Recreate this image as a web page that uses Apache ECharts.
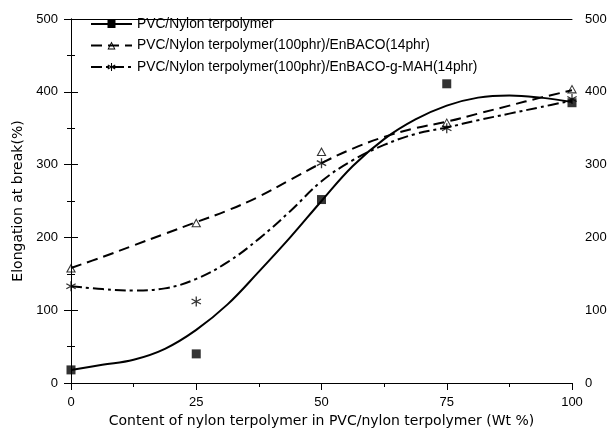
<!DOCTYPE html>
<html>
<head>
<meta charset="utf-8">
<script src="https://cdn.jsdelivr.net/npm/echarts@6/dist/echarts.min.js"></script>
<style>
html,body{margin:0;padding:0;background:#fff;}
#chart{width:611px;height:433px;}
</style>
</head>
<body>
<div id="chart"></div>
<script>
// Measured points
const xCats = [0, 25, 50, 75, 100];
const pvcNylon = [18, 40, 252, 411, 385];
const enbaco = [158, 220, 318, 358, 404];
const enbacoMah = [133, 112, 302, 350, 390];

// Fitted curves
const curveX = [0, 6.25, 12.5, 18.75, 25, 31.25, 37.5, 43.75, 50, 56.25, 62.5, 68.75, 75, 81.25, 87.5, 93.75, 100];
const pvcNylonFit = [18, 25, 32, 47, 73, 108, 153, 200, 250, 298, 335, 362, 381, 392, 395, 392, 386];
const enbacoFit = [158, 173, 189, 205, 221, 237, 256, 279, 302, 322, 338, 350, 359, 370, 381, 392, 402];
const enbacoMahFit = [133, 129, 127, 130, 143, 166, 198, 236, 277, 306, 327, 342, 351, 361, 370, 379, 388];

const seriesNames = [
  'PVC/Nylon terpolymer',
  'PVC/Nylon terpolymer(100phr)/EnBACO(14phr)',
  'PVC/Nylon terpolymer(100phr)/EnBACO-g-MAH(14phr)'
];
const xTicks = ['0', '25', '50', '75', '100'];
const yTicks = ['0', '100', '200', '300', '400', '500'];

const starPath = 'path://M8.8 0 L11.2 0 L11.2 20 L8.8 20 Z M0.74 6.04 L1.94 3.96 L19.26 13.96 L18.06 16.04 Z M18.06 3.96 L19.26 6.04 L1.94 16.04 L0.74 13.96 Z';
const triPath = 'path://M10 0 L20 18 L0 18 Z M10 4.4 L3.7 15.8 L16.3 15.8 Z';

const pair = (xs, ys) => xs.map((x, i) => [x, ys[i]]);
const FONT = '"Liberation Sans", Arial, sans-serif';
const TITLE_FONT = '"DejaVu Sans", sans-serif';

const chart = echarts.init(document.getElementById('chart'), null, {renderer: 'canvas'});

const yAxisCommon = {
  type: 'value', min: 0, max: 500, interval: 100,
  axisLine: {show: true, lineStyle: {color: '#000', width: 1}},
  axisTick: {show: true, length: 7, inside: false, lineStyle: {color: '#000'}},
  minorTick: {show: true, splitNumber: 2, length: 4, lineStyle: {color: '#000'}},
  splitLine: {show: false},
  axisLabel: {color: '#000', fontSize: 13, fontFamily: FONT, margin: 13}
};

chart.setOption({
  animation: false,
  backgroundColor: '#fff',
  textStyle: {fontFamily: FONT},
  grid: {left: 71, right: 39, top: 19, bottom: 49, containLabel: false},
  legend: {
    show: true,
    orient: 'vertical',
    left: 90, top: 17, padding: 0,
    itemWidth: 41, itemHeight: 10, itemGap: 7.5,
    data: seriesNames,
    textStyle: {color: '#000', fontSize: 13.8, fontFamily: FONT},
    inactiveColor: '#000'
  },
  xAxis: [{
    type: 'value', min: 0, max: 100, interval: 25,
    name: 'Content of nylon terpolymer in PVC/nylon terpolymer (Wt %)',
    nameLocation: 'middle', nameGap: 31,
    nameTextStyle: {color: '#000', fontSize: 14, fontFamily: TITLE_FONT},
    axisLine: {show: true, onZero: false, lineStyle: {color: '#000', width: 1}},
    axisTick: {show: true, length: 7, lineStyle: {color: '#000'}},
    minorTick: {show: true, splitNumber: 2, length: 4, lineStyle: {color: '#000'}},
    splitLine: {show: false},
    axisLabel: {color: '#000', fontSize: 13, fontFamily: FONT, margin: 13,
      formatter: v => xTicks[v / 25]}
  }, {
    type: 'value', min: 0, max: 100, interval: 25, position: 'top',
    axisLine: {show: true, onZero: false, lineStyle: {color: '#000', width: 1}},
    axisTick: {show: false}, axisLabel: {show: false}, splitLine: {show: false}
  }],
  yAxis: [Object.assign({}, yAxisCommon, {
    position: 'left',
    name: 'Elongation at break(%)', nameLocation: 'middle', nameGap: 45,
    nameTextStyle: {color: '#000', fontSize: 14, fontFamily: TITLE_FONT},
    axisLabel: Object.assign({}, yAxisCommon.axisLabel, {formatter: v => yTicks[v / 100]})
  }), Object.assign({}, yAxisCommon, {
    position: 'right',
    axisLabel: Object.assign({}, yAxisCommon.axisLabel, {formatter: v => yTicks[v / 100]})
  })],
  series: [
    {
      name: seriesNames[0], type: 'line', data: pair(curveX, pvcNylonFit),
      smooth: 0.4, showSymbol: false, symbol: 'rect', symbolSize: 8,
      lineStyle: {color: '#000', width: 2, type: 'solid'}, itemStyle: {color: '#000'}, z: 2
    },
    {
      name: seriesNames[1], type: 'line', data: pair(curveX, enbacoFit),
      smooth: 0.4, showSymbol: false, symbol: triPath, symbolSize: 8,
      lineStyle: {color: '#000', width: 2, type: [11, 6]}, itemStyle: {color: '#000'}, z: 2
    },
    {
      name: seriesNames[2], type: 'line', data: pair(curveX, enbacoMahFit),
      smooth: 0.4, showSymbol: false, symbol: starPath, symbolSize: 9,
      lineStyle: {color: '#000', width: 2, type: [11, 4, 3, 4]}, itemStyle: {color: '#000'}, z: 2
    },
    {
      name: 'm1', type: 'scatter', data: pair(xCats, pvcNylon),
      symbol: 'rect', symbolSize: 9, itemStyle: {color: '#000'}, z: 3
    },
    {
      name: 'm2', type: 'scatter', data: pair(xCats, enbaco),
      symbol: triPath, symbolSize: [10, 9], itemStyle: {color: '#000'}, z: 3
    },
    {
      name: 'm3', type: 'scatter', data: pair(xCats, enbacoMah),
      symbol: starPath, symbolSize: 10, itemStyle: {color: '#000'}, z: 3
    }
  ]
});
</script>
</body>
</html>
